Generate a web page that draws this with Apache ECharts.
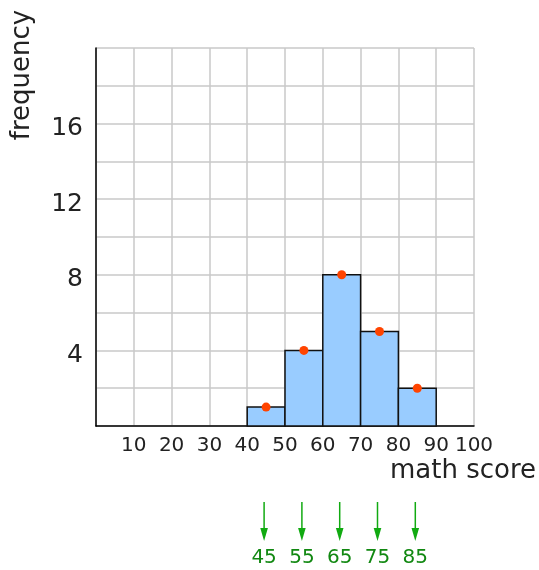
<!DOCTYPE html>
<html><head><meta charset="utf-8">
<script src="https://cdn.jsdelivr.net/npm/echarts@6/dist/echarts.min.js"></script>
<style>html,body{margin:0;padding:0;background:#fff}#c{width:539px;height:570px}</style>
</head><body><div id="c"></div>
<script>
const binStarts = [40, 50, 60, 70, 80];
const binEnds = [50, 60, 70, 80, 90];
const frequencies = [1, 4, 8, 5, 2];
const midpoints = [45, 55, 65, 75, 85];
const xTitle = 'math score';
const yTitle = 'frequency';

const font = 'DejaVu Sans';
const chart = echarts.init(document.getElementById('c'), null, {renderer: 'canvas'});
const bins = binStarts.map((s, i) => [s, binEnds[i], frequencies[i]]);
const dots = midpoints.map((m, i) => [m, frequencies[i]]);
const arrows = midpoints.map(m => [m, 0]);

chart.setOption({
  animation: false,
  grid: {left: 96, right: 65, top: 48, bottom: 144},
  xAxis: {
    type: 'value', min: 0, max: 100, interval: 10,
    axisLine: {show: true, onZero: false, lineStyle: {color: '#000', width: 1.5}},
    axisTick: {show: false},
    splitLine: {show: true, lineStyle: {color: '#c8c8c8', width: 1.5}},
    axisLabel: {fontFamily: font, fontSize: 20, color: '#222', margin: 10,
      formatter: v => v === 0 ? '' : String(v)}
  },
  yAxis: {
    type: 'value', min: 0, max: 20, interval: 2,
    axisLine: {show: true, lineStyle: {color: '#000', width: 1.5}},
    axisTick: {show: false},
    splitLine: {show: true, lineStyle: {color: '#c8c8c8', width: 1.5}},
    axisLabel: {fontFamily: font, fontSize: 25, color: '#222', margin: 13,
      verticalAlign: 'top', lineHeight: 10,
      formatter: v => (v % 4 === 0 && v > 0 && v < 20) ? String(v) : ''}
  },
  graphic: [
    {type: 'text', x: 22, y: 75, rotation: Math.PI / 2,
      style: {text: yTitle, fontFamily: font, fontSize: 26, fill: '#222', textAlign: 'center', textVerticalAlign: 'middle'}},
    {type: 'text', x: 536, y: 471,
      style: {text: xTitle, fontFamily: font, fontSize: 26, fill: '#222', textAlign: 'right', textVerticalAlign: 'middle'}}
  ],
  series: [
    {
      type: 'custom', data: bins, z: 3,
      encode: {x: [0, 1], y: 2},
      renderItem: (params, api) => {
        const p1 = api.coord([api.value(0), api.value(2)]);
        const p2 = api.coord([api.value(1), 0]);
        return {type: 'rect', shape: {x: p1[0], y: p1[1], width: p2[0] - p1[0], height: p2[1] - p1[1]},
          style: {fill: '#99ccff', stroke: '#111', lineWidth: 1.5}};
      }
    },
    {
      type: 'scatter', data: dots, z: 5, symbolSize: 9,
      itemStyle: {color: '#ff4400', opacity: 1}
    },
    {
      type: 'custom', data: arrows, z: 4, clip: false,
      encode: {x: 0, y: 1},
      renderItem: (params, api) => {
        const p = api.coord([api.value(0), 0]);
        const x = p[0] - 2, y0 = p[1] + 76;
        return {type: 'group', children: [
          {type: 'line', shape: {x1: x, y1: y0, x2: x, y2: y0 + 28}, style: {stroke: '#11aa11', lineWidth: 1.5}},
          {type: 'polygon', shape: {points: [[x - 3.8, y0 + 26], [x + 3.8, y0 + 26], [x, y0 + 39]]}, style: {fill: '#11aa11'}},
          {type: 'text', x: x, y: y0 + 56, style: {text: String(api.value(0)), fontFamily: font, fontSize: 20, fill: '#118811', textAlign: 'center', textVerticalAlign: 'middle'}}
        ]};
      }
    }
  ]
});
</script></body></html>
